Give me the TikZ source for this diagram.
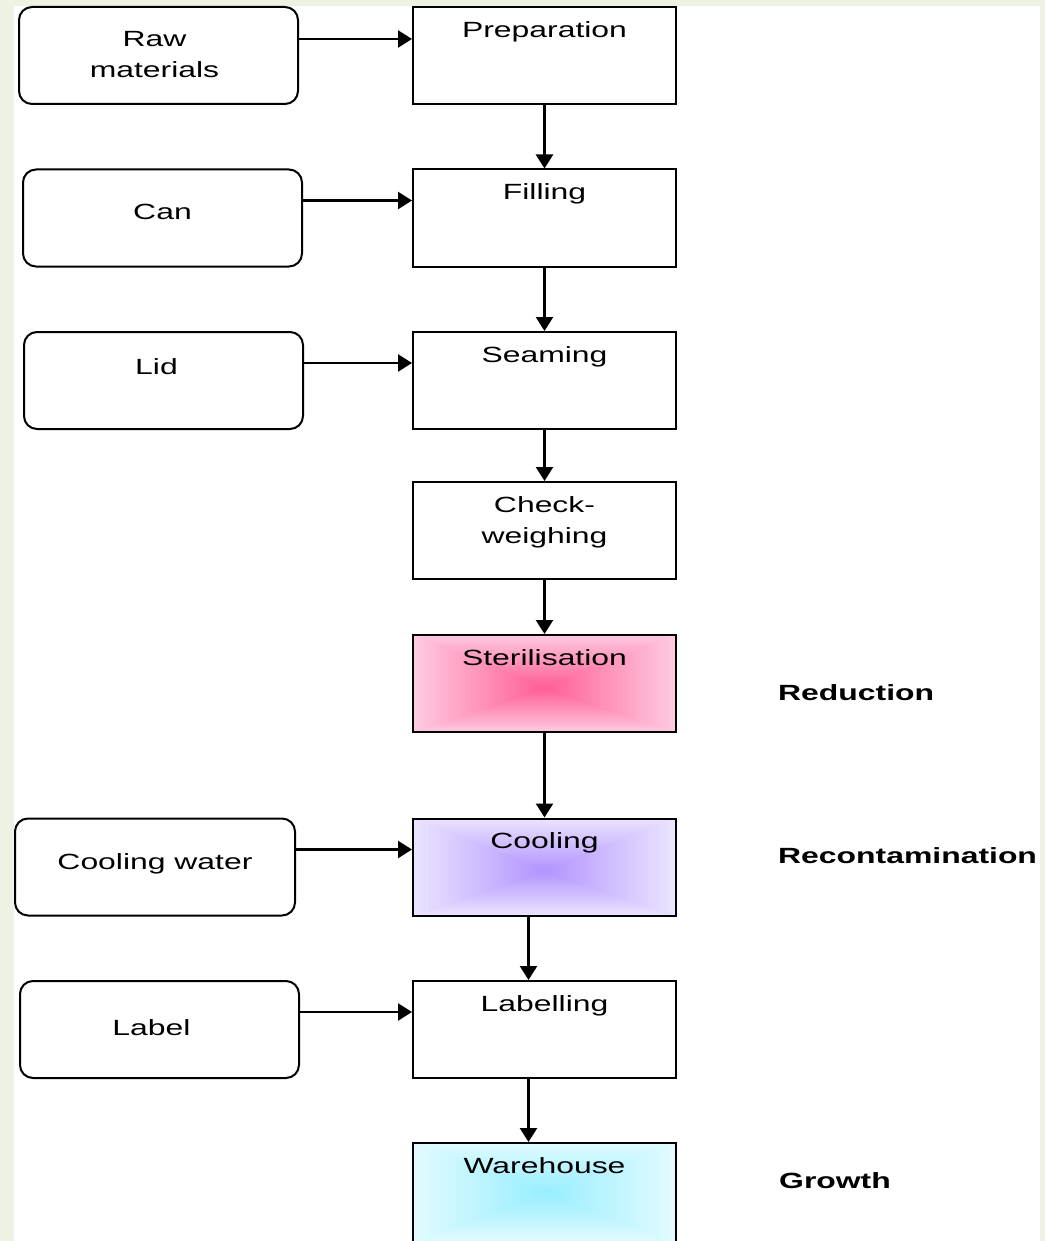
\documentclass[tikz,border=0pt]{standalone}
\usepackage{fontspec}
\setmainfont{Liberation Sans}[FakeStretch=1.45]
\usetikzlibrary{arrows.meta,calc,backgrounds}
\definecolor{bgc}{HTML}{EEF2E3}
\definecolor{stIn}{HTML}{FF5C94}
\definecolor{stOut}{HTML}{FFCBE2}
\definecolor{coIn}{HTML}{B193FF}
\definecolor{coOut}{HTML}{ECE5FF}
\definecolor{waIn}{HTML}{96EEFF}
\definecolor{waOut}{HTML}{E3FBFF}
\newcommand\rectgrad[4]{%
  \foreach \i in {0,...,48}{%
    \pgfmathsetmacro\tt{\i/48}%
    \pgfmathsetmacro\pp{100*\tt}%
    \fill[#2!\pp!#3] ($(#1.north west)!\tt!(#4)$) rectangle ($(#1.south east)!\tt!(#4)$);
  }%
}
\begin{document}
\begin{tikzpicture}[x=1pt,y=-1pt,
  every node/.style={font=\fontsize{22}{31}\selectfont},
  procbox/.style={draw, line width=2pt, minimum width=263pt, minimum height=97pt, inner sep=0pt},
  inbox/.style={draw, line width=2pt, rounded corners=13pt, minimum width=279pt, minimum height=97pt, inner sep=0pt},
  ptxt/.style={anchor=north, inner sep=0pt, align=center},
  ltxt/.style={inner sep=0pt, align=center},
  btxt/.style={anchor=base west, inner sep=0pt, font=\fontsize{22}{31}\selectfont\bfseries},
  arr/.style={line width=2.4pt, -{Triangle[width=17pt,length=14pt]}}]
\useasboundingbox (0,0) rectangle (1045,1241);
\begin{pgfonlayer}{background}
\fill[bgc] (0,0) rectangle (1045,1241);
\fill[white] (14,6) rectangle (1040,1241);
\end{pgfonlayer}

% process column
\node[procbox] (prep) at (544.5,55.5) {};
\node[procbox] (fill) at (544.5,218) {};
\node[procbox] (seam) at (544.5,380.5) {};
\node[procbox] (check) at (544.5,530.5) {};
\node[procbox] (ster) at (544.5,683.5) {};
\node[procbox] (cool) at (544.5,867) {};
\node[procbox] (lab) at (544.5,1029.5) {};
\node[procbox, minimum height=100pt] (ware) at (544.5,1193) {};

\coordinate (sterc) at (544.5,688);
\coordinate (coolc) at (544.5,871);
\coordinate (warec) at (544.5,1192);
\begin{pgfonlayer}{background}
\rectgrad{ster}{stIn}{stOut}{sterc}
\rectgrad{cool}{coIn}{coOut}{coolc}
\rectgrad{ware}{waIn}{waOut}{warec}
\end{pgfonlayer}

\node[ptxt] (tprep) at ([yshift=-15pt]prep.north) {Preparation};
\node[ptxt] (tfill) at ([yshift=-15pt]fill.north) {Filling};
\node[ptxt] (tseam) at ([yshift=-15pt]seam.north) {Seaming};
\node[ptxt] (tcheck) at ([yshift=-15pt]check.north) {Check-\\weighing};
\node[ptxt] (tster) at ([yshift=-15pt]ster.north) {Sterilisation};
\node[ptxt] (tcool) at ([yshift=-15pt]cool.north) {Cooling};
\node[ptxt] (tlab) at ([yshift=-15pt]lab.north) {Labelling};
\node[ptxt] (tware) at ([yshift=-15pt]ware.north) {Warehouse};

% input boxes
\node[inbox] (raw) at (158.5,55.5) {};
\node[inbox] (can) at (162.5,218) {};
\node[inbox] (lid) at (163.5,380.5) {};
\node[inbox, minimum width=280pt] (cw) at (155,867) {};
\node[inbox] (label) at (159.5,1029.5) {};

\node[ltxt] (traw) at ([xshift=-4pt,yshift=1pt]raw.center) {Raw\\materials};
\node[ltxt] (tcan) at ([yshift=6pt]can.center) {Can};
\node[ltxt] (tlid) at ([xshift=-7pt,yshift=14pt]lid.center) {Lid};
\node[ltxt] (tcw) at ([yshift=3pt]cw.center) {Cooling water};
\node[ltxt] (tlabel) at ([xshift=-8pt,yshift=2pt]label.center) {Label};

% side labels
\node[btxt] (red) at (778,700) {Reduction};
\node[btxt] (recon) at (778,863) {Recontamination};
\node[btxt] (grow) at (779,1188) {Growth};

% vertical flow
\draw[arr] (prep.south) -- (fill.north);
\draw[arr] (fill.south) -- (seam.north);
\draw[arr] (seam.south) -- (check.north);
\draw[arr] (check.south) -- (ster.north);
\draw[arr] (ster.south) -- (cool.north);
\draw[arr] ([xshift=-16pt]cool.south) -- ([xshift=-16pt]lab.north);
\draw[arr] ([xshift=-16pt]lab.south) -- ([xshift=-16pt]ware.north);

% inputs
\draw[arr] ([yshift=-33pt]raw.north east) -- ([yshift=-33pt]prep.north west);
\draw[arr] ([yshift=-32pt]can.north east) -- ([yshift=-32pt]fill.north west);
\draw[arr] ([yshift=-32pt]lid.north east) -- ([yshift=-32pt]seam.north west);
\draw[arr] ([yshift=-32pt]cw.north east) -- ([yshift=-32pt]cool.north west);
\draw[arr] ([yshift=-32pt]label.north east) -- ([yshift=-32pt]lab.north west);
\end{tikzpicture}
\end{document}
